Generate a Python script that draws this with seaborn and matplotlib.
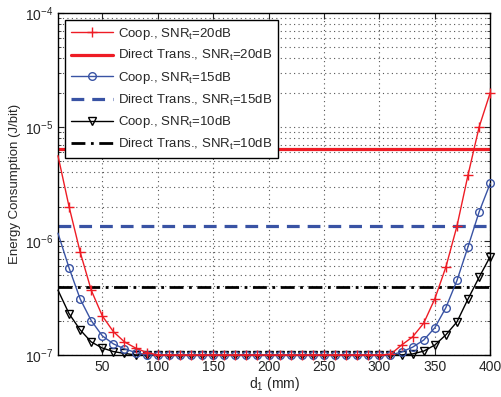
import matplotlib
matplotlib.use("Agg")
import matplotlib.pyplot as plt
import numpy as np
import pandas as pd
import seaborn as sns
from matplotlib.ticker import LogLocator, NullFormatter

# --- data ---
d1 = np.arange(10, 401, 10)

coop_20 = [5.6e-6, 2.0e-6, 8.0e-7, 3.7e-7, 2.2e-7, 1.6e-7, 1.3e-7, 1.15e-7, 1.05e-7] + [1.0e-7] * 21 + \
          [1.01e-7, 1.22e-7, 1.44e-7, 1.9e-7, 3.1e-7, 5.9e-7, 1.35e-6, 3.8e-6, 1.0e-5, 2.0e-5]
coop_15 = [1.17e-6, 5.8e-7, 3.1e-7, 2.0e-7, 1.47e-7, 1.25e-7, 1.13e-7, 1.05e-7] + [1.0e-7] * 23 + \
          [1.06e-7, 1.17e-7, 1.35e-7, 1.73e-7, 2.6e-7, 4.5e-7, 8.9e-7, 1.8e-6, 3.2e-6]
coop_10 = [3.7e-7, 2.3e-7, 1.66e-7, 1.3e-7, 1.15e-7, 1.07e-7, 1.03e-7] + [1.0e-7] * 25 + \
          [1.02e-7, 1.08e-7, 1.22e-7, 1.5e-7, 1.95e-7, 3.1e-7, 4.8e-7, 7.3e-7]

direct_20 = 6.4e-6
direct_15 = 1.35e-6
direct_10 = 3.95e-7

RED = "#ee1c25"
BLUE = "#3953a4"

sns.set_style("ticks")
plt.rcParams["font.family"] = ["Liberation Sans", "DejaVu Sans"]
plt.rcParams["mathtext.fontset"] = "custom"
plt.rcParams["mathtext.rm"] = "Liberation Sans"
plt.rcParams["mathtext.it"] = "Liberation Sans:italic"
plt.rcParams["xtick.direction"] = "in"
plt.rcParams["ytick.direction"] = "in"


def main():
    df = pd.DataFrame({"d1": d1, "c20": coop_20, "c15": coop_15, "c10": coop_10})

    fig = plt.figure(figsize=(5.02, 3.97), dpi=100)
    ax = fig.add_axes([0.1155, 0.106, 0.861, 0.861])

    sub = r"SNR$_\mathregular{t}$"
    skip_first = slice(1, None)
    sns.lineplot(data=df, x="d1", y="c20", ax=ax, color=RED, lw=1.0, marker="+", ms=7.5,
                 mec=RED, mew=1.0, markevery=skip_first, clip_on=False, zorder=5,
                 label=f"Coop., {sub}=20dB")
    ax.axhline(direct_20, color=RED, lw=2.3, label=f"Direct Trans., {sub}=20dB")
    sns.lineplot(data=df, x="d1", y="c15", ax=ax, color=BLUE, lw=1.0, marker="o", ms=5.5,
                 mfc="none", mec=BLUE, mew=1.0, markevery=skip_first, clip_on=False, zorder=4,
                 label=f"Coop., {sub}=15dB")
    ax.axhline(direct_15, color=BLUE, lw=2.3, ls=(0, (4, 2.5)), label=f"Direct Trans., {sub}=15dB")
    sns.lineplot(data=df, x="d1", y="c10", ax=ax, color="black", lw=1.0, marker="v", ms=6,
                 mfc="none", mec="black", mew=1.0, markevery=skip_first, clip_on=False, zorder=3,
                 label=f"Coop., {sub}=10dB")
    ax.axhline(direct_10, color="black", lw=2.0, ls=(0, (5, 2, 1, 2)), label=f"Direct Trans., {sub}=10dB")

    ax.set_yscale("log")
    ax.set_xlim(10, 400)
    ax.set_ylim(1e-7, 1e-4)
    ax.set_xticks([50, 100, 150, 200, 250, 300, 350, 400])
    ax.yaxis.set_major_locator(LogLocator(base=10, numticks=10))
    ax.yaxis.set_minor_locator(LogLocator(base=10, subs=np.arange(2, 10), numticks=10))
    ax.yaxis.set_minor_formatter(NullFormatter())
    ax.tick_params(which="both", top=True, right=True, labelsize=10, length=4)
    ax.tick_params(which="minor", length=2)
    ax.grid(True, which="major", axis="both", ls=(0, (1, 3)), color="#555555", lw=0.8)
    ax.grid(True, which="minor", axis="y", ls=(0, (1, 3)), color="#555555", lw=0.8)
    for s in ax.spines.values():
        s.set_linewidth(1.0)
        s.set_color("black")

    ax.set_xlabel(r"d$_\mathregular{1}$ (mm)", fontsize=10, labelpad=1)
    ax.set_ylabel("Energy Consumption (J/bit)", fontsize=9.5, labelpad=3)

    leg = ax.legend(loc="upper left", fontsize=9.5, frameon=True, fancybox=False, framealpha=1,
                    edgecolor="black", handlelength=3.2, borderpad=0.45, labelspacing=0.5,
                    handletextpad=0.4, borderaxespad=0.5)
    leg.get_frame().set_linewidth(1.0)
    leg.set_zorder(10)

    fig.savefig("out.png", dpi=100)
    plt.close(fig)


if __name__ == "__main__":
    main()
